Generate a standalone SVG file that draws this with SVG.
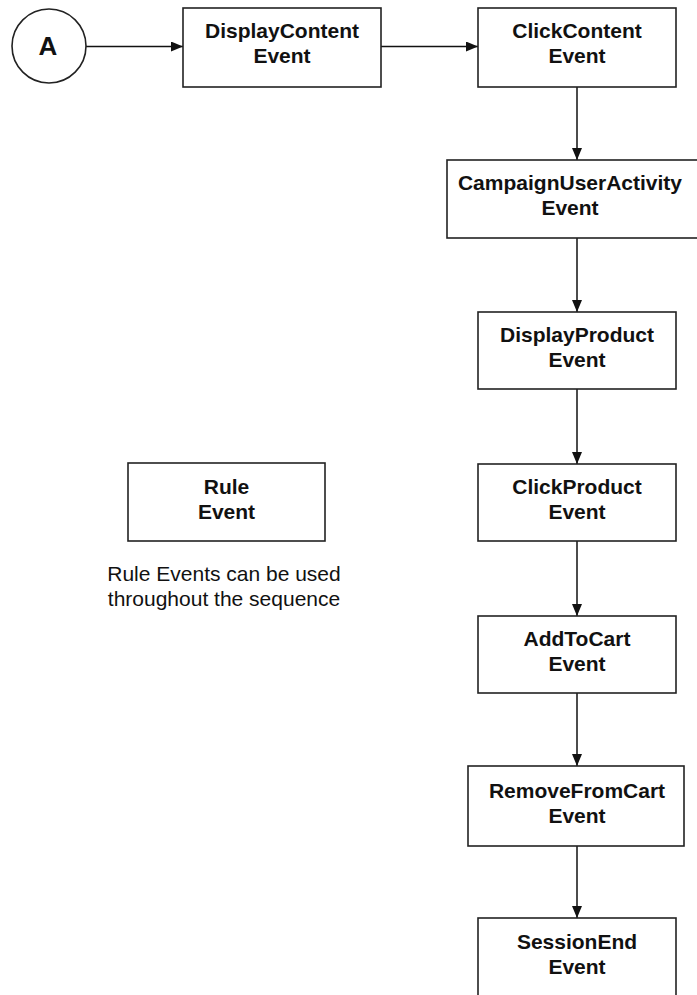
<svg xmlns="http://www.w3.org/2000/svg" width="697" height="995" viewBox="0 0 697 995">
<style>
.box{fill:#fff;stroke:#222;stroke-width:1.6}
.lbl{font-family:"Liberation Sans",Arial,sans-serif;font-weight:bold;font-size:21px;fill:#111;text-anchor:middle}
.note{font-family:"Liberation Sans",Arial,sans-serif;font-size:21px;fill:#111;text-anchor:middle}
.conn{stroke:#111;stroke-width:1.5;fill:none}
</style>
<defs>
<marker id="arr" viewBox="0 0 12 10" refX="12" refY="5" markerWidth="12" markerHeight="10" markerUnits="userSpaceOnUse" orient="auto">
<path d="M0,0 L12,5 L0,10 Z" fill="#111"/>
</marker>
</defs>
<rect width="697" height="995" fill="#fff"/>
<g id="connectors">
<line class="conn" x1="86" y1="46.5" x2="183" y2="46.5" marker-end="url(#arr)"/>
<line class="conn" x1="381" y1="46.5" x2="478" y2="46.5" marker-end="url(#arr)"/>
<line class="conn" x1="577" y1="87" x2="577" y2="160" marker-end="url(#arr)"/>
<line class="conn" x1="577" y1="238" x2="577" y2="312" marker-end="url(#arr)"/>
<line class="conn" x1="577" y1="389" x2="577" y2="464" marker-end="url(#arr)"/>
<line class="conn" x1="577" y1="541" x2="577" y2="616" marker-end="url(#arr)"/>
<line class="conn" x1="577" y1="693" x2="577" y2="766" marker-end="url(#arr)"/>
<line class="conn" x1="577" y1="846" x2="577" y2="918" marker-end="url(#arr)"/>
</g>
<g id="nodeA">
<circle cx="49" cy="46" r="37" fill="#fff" stroke="#222" stroke-width="1.6"/>
<text x="48" y="55" font-family="Liberation Sans,Arial,sans-serif" font-weight="bold" font-size="26" fill="#111" text-anchor="middle">A</text>
</g>
<g id="displayContent">
<rect class="box" x="183" y="8" width="198" height="79"/>
<text class="lbl" x="282" y="38">DisplayContent</text>
<text class="lbl" x="282" y="63">Event</text>
</g>
<g id="clickContent">
<rect class="box" x="478" y="8" width="198" height="79"/>
<text class="lbl" x="577" y="38">ClickContent</text>
<text class="lbl" x="577" y="63">Event</text>
</g>
<g id="campaignUserActivity">
<rect class="box" x="447" y="160" width="262" height="78"/>
<text class="lbl" x="570" y="190">CampaignUserActivity</text>
<text class="lbl" x="570" y="215">Event</text>
</g>
<g id="displayProduct">
<rect class="box" x="478" y="312" width="198" height="77"/>
<text class="lbl" x="577" y="342">DisplayProduct</text>
<text class="lbl" x="577" y="367">Event</text>
</g>
<g id="clickProduct">
<rect class="box" x="478" y="464" width="198" height="77"/>
<text class="lbl" x="577" y="494">ClickProduct</text>
<text class="lbl" x="577" y="519">Event</text>
</g>
<g id="addToCart">
<rect class="box" x="478" y="616" width="198" height="77"/>
<text class="lbl" x="577" y="646">AddToCart</text>
<text class="lbl" x="577" y="671">Event</text>
</g>
<g id="removeFromCart">
<rect class="box" x="468" y="766" width="216" height="80"/>
<text class="lbl" x="577" y="798">RemoveFromCart</text>
<text class="lbl" x="577" y="823">Event</text>
</g>
<g id="sessionEnd">
<rect class="box" x="478" y="918" width="198" height="90"/>
<text class="lbl" x="577" y="949">SessionEnd</text>
<text class="lbl" x="577" y="974">Event</text>
</g>
<g id="ruleEvent">
<rect class="box" x="128" y="463" width="197" height="78"/>
<text class="lbl" x="226.5" y="494">Rule</text>
<text class="lbl" x="226.5" y="519">Event</text>
<text class="note" x="224" y="581">Rule Events can be used</text>
<text class="note" x="224" y="606">throughout the sequence</text>
</g>
</svg>
